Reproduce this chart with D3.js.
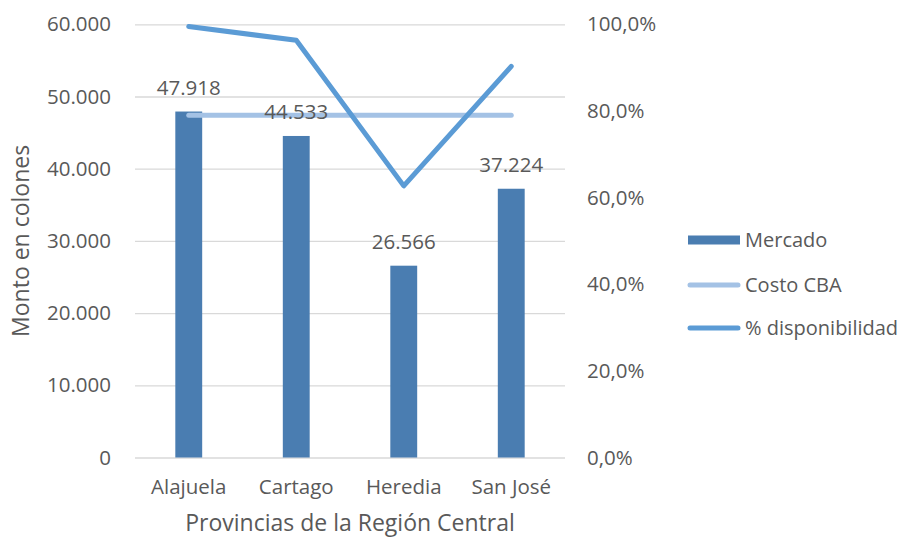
<!DOCTYPE html>
<html>
<head>
<meta charset="utf-8">
<script src="https://cdn.jsdelivr.net/npm/d3@7"></script>
<style>
  html, body { margin: 0; padding: 0; background: #fff; }
  svg { display: block; font-family: "Open Sans", "Noto Sans", sans-serif; }
</style>
</head>
<body>
<svg id="chart" width="907" height="539"></svg>
<script>
// ---- Data ----
const categories = ["Alajuela", "Cartago", "Heredia", "San José"];
const mercado = [47918, 44533, 26566, 37224];
const costoCBA = [47420, 47420, 47420, 47420];
const disponibilidad = [0.995, 0.963, 0.627, 0.903];
const leftTicks = [0, 10000, 20000, 30000, 40000, 50000, 60000];
const rightTicks = [0, 0.2, 0.4, 0.6, 0.8, 1.0];
const seriesNames = ["Mercado", "Costo CBA", "% disponibilidad"];

// ---- Setup ----
const locale = d3.formatLocale({ decimal: ",", thousands: ".", grouping: [3], currency: ["₡", ""] });
const fmtNum = locale.format(",d");
const fmtPct = locale.format(".1%");

const svg = d3.select("#chart");
const textColor = "#595959";
const plot = { left: 135, right: 565, top: 24.3, bottom: 457.5 };

const x = d3.scaleBand().domain(categories).range([plot.left, plot.right]).padding(0);
const yL = d3.scaleLinear().domain([0, 60000]).range([plot.bottom, plot.top]);
const yR = d3.scaleLinear().domain([0, 1]).range([plot.bottom, plot.top]);

const barW = x.bandwidth() * 0.25;
const cx = d => x(d) + x.bandwidth() / 2;

// Gridlines
svg.append("g")
  .attr("transform", `translate(${plot.left},0)`)
  .call(d3.axisLeft(yL).tickValues(leftTicks).tickSize(-(plot.right - plot.left)).tickFormat(""))
  .call(g => g.select(".domain").remove())
  .call(g => g.selectAll("line").attr("stroke", "#d9d9d9").attr("stroke-width", 1.3));

// Left axis labels
svg.append("g")
  .attr("transform", `translate(${plot.left},0)`)
  .call(d3.axisLeft(yL).tickValues(leftTicks).tickSize(0).tickPadding(24).tickFormat(d => fmtNum(d)))
  .call(g => g.select(".domain").remove())
  .call(g => g.selectAll("text").attr("fill", textColor).style("font-size", "20.5px").style("font-family", "'Open Sans'"));

// Right axis labels
svg.append("g")
  .attr("transform", `translate(${plot.right},0)`)
  .call(d3.axisRight(yR).tickValues(rightTicks).tickSize(0).tickPadding(22).tickFormat(d => fmtPct(d)))
  .call(g => g.select(".domain").remove())
  .call(g => g.selectAll("text").attr("fill", textColor).style("font-size", "20.5px").style("font-family", "'Open Sans'"));

// X axis labels
svg.append("g")
  .attr("transform", `translate(0,${plot.bottom})`)
  .call(d3.axisBottom(x).tickSize(0).tickPadding(22))
  .call(g => g.select(".domain").remove())
  .call(g => g.selectAll("text").attr("fill", textColor).style("font-size", "20.5px").style("font-family", "'Open Sans'"));

// Bars
svg.append("g").selectAll("rect").data(categories).join("rect")
  .attr("x", (d) => cx(d) - barW / 2)
  .attr("width", barW)
  .attr("y", (d, i) => yL(mercado[i]))
  .attr("height", (d, i) => yL(0) - yL(mercado[i]))
  .attr("fill", "#4a7db1");

// Costo CBA line
const lineL = d3.line().x((d, i) => cx(categories[i])).y(d => yL(d));
svg.append("path").datum(costoCBA)
  .attr("d", lineL)
  .attr("fill", "none").attr("stroke", "#a4c2e5").attr("stroke-width", 5)
  .attr("stroke-linecap", "round").attr("stroke-linejoin", "round");

// % disponibilidad line
const lineR = d3.line().x((d, i) => cx(categories[i])).y(d => yR(d));
svg.append("path").datum(disponibilidad)
  .attr("d", lineR)
  .attr("fill", "none").attr("stroke", "#5b9bd5").attr("stroke-width", 5)
  .attr("stroke-linecap", "round").attr("stroke-linejoin", "round");

// Data labels
svg.append("g").selectAll("text").data(categories).join("text")
  .attr("x", d => cx(d))
  .attr("y", (d, i) => yL(mercado[i]) - 17)
  .attr("text-anchor", "middle")
  .attr("fill", textColor)
  .style("font-size", "20.5px")
  .text((d, i) => fmtNum(mercado[i]));

// Axis titles
svg.append("text")
  .attr("transform", `translate(29,${(plot.top + plot.bottom) / 2}) rotate(-90)`)
  .attr("text-anchor", "middle")
  .attr("fill", textColor)
  .style("font-size", "23px")
  .text("Monto en colones");

svg.append("text")
  .attr("x", (plot.left + plot.right) / 2)
  .attr("y", 531)
  .attr("text-anchor", "middle")
  .attr("fill", textColor)
  .style("font-size", "23px")
  .text("Provincias de la Región Central");

// Legend
const legend = svg.append("g");
const legY = [240, 285, 328];
legend.append("rect").attr("x", 688).attr("y", legY[0] - 4.5).attr("width", 52).attr("height", 9).attr("fill", "#4a7db1");
legend.append("line").attr("x1", 690).attr("x2", 738).attr("y1", legY[1]).attr("y2", legY[1])
  .attr("stroke", "#a4c2e5").attr("stroke-width", 5).attr("stroke-linecap", "round");
legend.append("line").attr("x1", 690).attr("x2", 738).attr("y1", legY[2]).attr("y2", legY[2])
  .attr("stroke", "#5b9bd5").attr("stroke-width", 5).attr("stroke-linecap", "round");
legend.selectAll("text.leg").data(seriesNames).join("text")
  .attr("class", "leg")
  .attr("x", 745)
  .attr("y", (d, i) => legY[i])
  .attr("dy", "0.35em")
  .attr("fill", textColor)
  .style("font-size", "20px")
  .text(d => d);
</script>
</body>
</html>
